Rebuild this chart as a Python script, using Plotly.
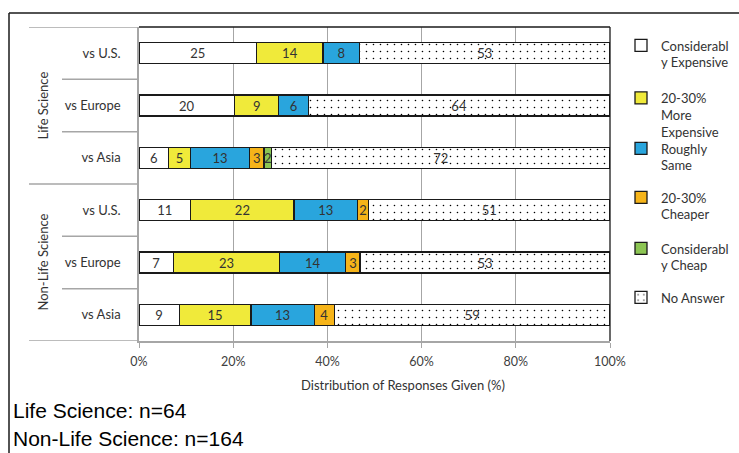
import plotly.graph_objects as go

row_labels = ["vs U.S.", "vs Europe", "vs Asia", "vs U.S.", "vs Europe", "vs Asia"]
group_labels = ["Life Science", "Non-Life Science"]
series_names = ["Considerabl<br>y Expensive", "20-30%<br>More<br>Expensive", "Roughly<br>Same",
                "20-30%<br>Cheaper", "Considerabl<br>y Cheap", "No Answer"]

cons_expensive = [25.00, 20.31, 6.25, 10.98, 7.32, 8.54]
more_expensive = [14.06, 9.38, 4.69, 21.95, 22.56, 15.24]
roughly_same = [7.81, 6.25, 12.50, 13.41, 14.02, 13.41]
cheaper = [0, 0, 3.13, 2.44, 3.05, 4.27]
cons_cheap = [0, 0, 1.56, 0, 0, 0]
no_answer = [53.13, 64.06, 71.88, 51.22, 53.05, 58.54]

x_ticks = [0, 20, 40, 60, 80, 100]
x_tick_labels = ["0%", "20%", "40%", "60%", "80%", "100%"]
notes = ["Life Science: n=64", "Non-Life Science: n=164"]

series = [cons_expensive, more_expensive, roughly_same, cheaper, cons_cheap, no_answer]
colors = ["#FFFFFF", "#F0EA3A", "#29A5DD", "#F6B419", "#8CC553", "#FFFFFF"]

W, H = 739, 453
L, R, T, B = 139, 129, 27, 112
pw, ph = W - L - R, H - T - B


def px_x(p):
    return (p - L) / pw


def px_y(p):
    return (H - B - p) / ph


ypos = list(range(len(row_labels)))
fig = go.Figure()
legend_tops = [30.5, 83, 133.5, 182.5, 233.5, 282.5]
for i, (name, vals, col) in enumerate(zip(series_names, series, colors)):
    texts = [str(int(v + 0.5)) if v > 0 else "" for v in vals]
    marker = dict(color=col, line=dict(color="#1a1a1a", width=1.3))
    if i == 5:
        marker["pattern"] = dict(shape=".", fgcolor="#000000", bgcolor="#FFFFFF",
                                 size=7, solidity=0.04, fillmode="replace")
    fig.add_trace(go.Bar(
        y=ypos, x=vals, name=name, orientation="h", marker=marker,
        text=texts, textposition="inside", insidetextanchor="middle", textangle=0,
        textfont=dict(family="Lato", size=13, color="#333333"),
        legend=f"legend{i+2}", hoverinfo="skip"))

layout_legends = {}
for i, top in enumerate(legend_tops):
    layout_legends[f"legend{i+2}"] = dict(
        x=px_x(621), y=px_y(top), xanchor="left", yanchor="top",
        bgcolor="rgba(0,0,0,0)", font=dict(family="Lato", size=13, color="#333333"),
        valign="top", itemwidth=30, tracegroupgap=0)

shapes = []
grey = "#A6A6A6"
for k in range(len(row_labels) + 1):
    yb = k - 0.5
    x0 = px_x(29) if k % 3 == 0 else px_x(62)
    shapes.append(dict(type="line", xref="paper", yref="y", x0=x0, x1=0, y0=yb, y1=yb,
                       line=dict(color=grey, width=1.5)))
shapes.append(dict(type="line", xref="paper", yref="paper", x0=0, x1=1, y0=1, y1=1,
                   line=dict(color="#1a1a1a", width=1.3)))
shapes.append(dict(type="line", xref="paper", yref="paper", x0=1, x1=1, y0=0, y1=1,
                   line=dict(color="#1a1a1a", width=1.3)))
shapes.append(dict(type="line", xref="paper", yref="paper", x0=px_x(9), x1=px_x(740),
                   y0=px_y(13), y1=px_y(13), line=dict(color="#1a1a1a", width=1.5)))
shapes.append(dict(type="line", xref="paper", yref="paper", x0=px_x(9), x1=px_x(9),
                   y0=px_y(13), y1=px_y(455), line=dict(color="#1a1a1a", width=1.5)))

annotations = []
for g, name in enumerate(group_labels):
    annotations.append(dict(text=name, xref="paper", yref="y", x=px_x(42), y=g * 3 + 1,
                            xanchor="center", yanchor="middle",
                            textangle=-90, showarrow=False,
                            font=dict(family="Lato", size=13, color="#333333")))
annotations.append(dict(text="Distribution of Responses Given (%)", xref="paper", yref="paper",
                        x=px_x(403), y=px_y(385), showarrow=False, xanchor="center", yanchor="middle",
                        font=dict(family="Lato", size=13, color="#333333")))
for j, t in enumerate(notes):
    annotations.append(dict(text=t, xref="paper", yref="paper", x=px_x(11), y=px_y(410 + 28 * j),
                            xanchor="left", yanchor="middle", showarrow=False,
                            font=dict(family="Liberation Sans", size=21, color="#000000")))

fig.update_layout(
    width=W, height=H, margin=dict(l=L, r=R, t=T, b=B, autoexpand=False),
    barmode="stack", bargap=0.6, plot_bgcolor="#FFFFFF", paper_bgcolor="#FFFFFF",
    uniformtext=dict(minsize=13, mode="show"), showlegend=True,
    shapes=shapes, annotations=annotations, **layout_legends,
    xaxis=dict(range=[0, 100], tickvals=x_ticks, ticktext=x_tick_labels, showgrid=True,
               gridcolor=grey, gridwidth=1.3, showline=True, linecolor=grey, linewidth=1.5,
               ticks="outside", ticklen=5, tickcolor=grey, ticklabelstandoff=3,
               tickfont=dict(family="Lato", size=12.5, color="#404040"), zeroline=False),
    yaxis=dict(range=[5.5, -0.5], tickvals=ypos, ticktext=row_labels, showgrid=False,
               showline=True, linecolor=grey, linewidth=1.5, ticks="", ticklabelstandoff=14,
               tickfont=dict(family="Lato", size=13, color="#333333"), zeroline=False),
    font=dict(family="Lato"),
)
fig.write_html("out.html", config={"displayModeBar": False},
               post_script="document.body.style.margin='0px';")
